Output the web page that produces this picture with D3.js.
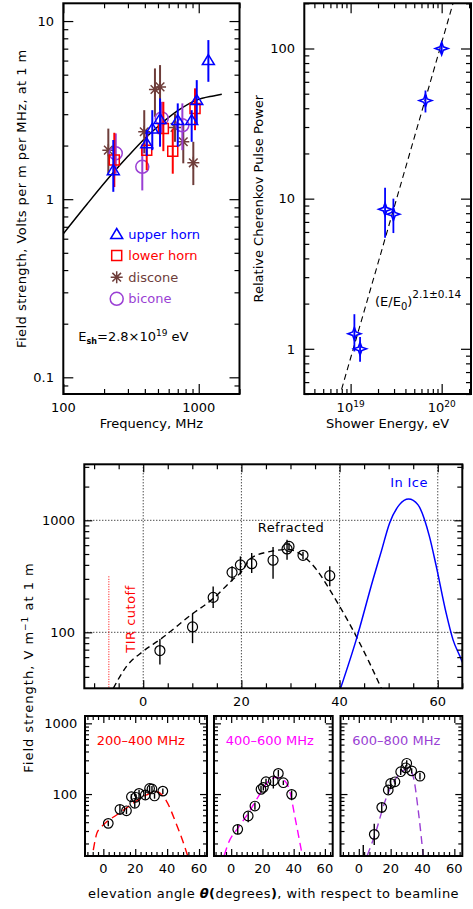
<!DOCTYPE html>
<html>
<head>
<meta charset="utf-8">
<script src="https://cdn.jsdelivr.net/npm/d3@7/dist/d3.min.js"></script>
<style>
  html, body { margin: 0; padding: 0; background: #fff; }
  svg { display: block; }
  text { font-family: "DejaVu Sans", "Liberation Sans", sans-serif; font-size: 13px; white-space: pre; }
</style>
</head>
<body>
<svg id="fig" width="473" height="909" viewBox="0 0 473 909"></svg>
<script>
// ===================== DATA =====================
// Field strength vs frequency, per antenna (MHz, V/m/MHz at 1 m)
const freqUpper      = [234, 413, 454, 518, 700, 887, 967, 1178];
const fieldUpper     = [1.455, 2.06, 2.49, 2.82, 2.78, 2.78, 3.6, 6.04];
const fieldUpperLo   = [1.10, 1.75, 1.885, 1.97, 1.97, 2.1, 2.66, 4.56];
const fieldUpperHi   = [2.15, 2.45, 3.16, 3.68, 3.45, 3.16, 4.66, 7.82];

const freqLower      = [238, 413, 548, 643, 939];
const fieldLower     = [1.66, 1.885, 2.49, 1.86, 3.23];
const fieldLowerLo   = [1.17, 1.455, 1.86, 1.39, 2.44];
const fieldLowerHi   = [2.36, 2.34, 3.52, 2.49, 4.19];

const freqDiscone    = [215, 396, 475, 518, 668, 769, 912];
const fieldDiscone   = [1.885, 2.39, 4.13, 4.27, 2.53, 2.1, 1.6];
const fieldDisconeLo = [1.39, 1.81, 2.9, 3.16, 2.1, 1.59, 1.2];
const fieldDisconeHi = [2.49, 3.16, 5.42, 5.66, 3.03, 2.66, 2.1];

const freqBicone     = [244, 383, 533, 757];
const fieldBicone    = [1.81, 1.52, 2.84, 2.6];
const fieldBiconeLo  = [1.39, 1.12, 2.34, 1.885];
const fieldBiconeHi  = [2.34, 1.97, 3.52, 3.45];

// Shower-model spectrum
const freqModel  = [100, 150, 234, 300, 400, 533, 700, 966, 1282, 1480];
const fieldModel = [0.64, 0.94, 1.41, 1.74, 2.19, 2.67, 3.14, 3.6, 3.8, 3.88];

const freqTicks  = [100, 1000];
const fieldTicks = [0.1, 1, 10];
const antennaNames = ["upper horn", "lower horn", "discone", "bicone"];

// Relative Cherenkov pulse power vs shower energy
const showerEnergy = [1.10e19, 1.27e19, 2.39e19, 2.95e19, 6.64e19, 1.0e20];
const pulsePower   = [1.26, 1.0, 8.5, 7.88, 45, 100];
const pulsePowerLo = [0.96, 0.82, 5.5, 5.9, 37.5, 92];
const pulsePowerHi = [1.7, 1.2, 11.8, 10, 52.5, 109];
const powerIndex = 2.1;      // fitted exponent
const powerE0 = 1.07e19;     // reference energy E0
const powerTicks = [1, 10, 100];
const energyTickExp = [19, 20];

// Field strength vs elevation angle, all frequencies
const angleRefr   = [3.4, 10.05, 14.25, 18.1, 19.8, 22.1, 26.45, 29.3, 29.7, 32.55, 38];
const fieldRefr   = [68.7, 111.7, 205, 343, 400, 410, 440, 555, 585, 487, 320];
const fieldRefrLo = [51.5, 80, 165, 285, 328, 339, 300, 445, 545, 450, 258];
const fieldRefrHi = [87, 147, 257, 388, 476, 511, 579, 670, 630, 525, 389];

const angleRefrModel = [-6.1, -3.4, 0, 3.4, 10, 14.25, 18.2, 19.9, 22, 26, 29.5, 32.2, 35.3, 38, 40, 43.4, 46.1, 48.5];
const fieldRefrModel = [31.6, 49.7, 67.7, 86, 146, 200, 295, 343, 461, 528, 548, 494, 363, 240, 171, 92, 53.3, 31.6];

const angleIceModel = [40.2, 43.4, 46.8, 48.5, 50.2, 52.2, 54.06, 55.95, 58.3, 59.7, 61.7, 63.1, 64.8, 65];
const fieldIceModel = [31.6, 86, 295, 528, 947, 1380, 1552, 1380, 719, 388, 149, 86, 57, 54];

const tirAngle = -7;
const tirTop = 316;
const angleTicks = [0, 20, 40, 60];
const fieldTicksMid = [100, 1000];

// Field strength vs elevation angle, by frequency band
const bandLabels = ["200–400 MHz", "400–600 MHz", "600–800 MHz"];

const angle200   = [3.1, 10.4, 14.5, 17.6, 19.7, 20.4, 22.4, 26.3, 29, 30.5, 32.1, 37.3];
const field200   = [38.5, 60.8, 58, 91.6, 74, 90, 102, 97, 120, 118, 94, 110];
const field200Lo = [35, 51, 52, 84, 64, 82, 86, 84, 104, 106, 86, 100];
const field200Hi = [42, 70, 64, 100, 84, 99, 114, 110, 132, 130, 102, 120];
const model200Angle = [-6.3, -4.1, -2, 2.1, 8.3, 18.6, 27, 33.2, 39.4, 45.6, 49.7, 52.8];
const model200Field = [16.1, 27.8, 32.7, 40.6, 50.5, 74, 97, 108, 81, 38.5, 22, 13.5];

const angle400   = [4.2, 10.9, 15.2, 19.1, 20.6, 22.3, 27, 30.2, 33.4, 38.7];
const field400   = [31.7, 48.9, 67.7, 116.6, 124.4, 149.4, 154, 196, 144.6, 99];
const field400Lo = [27, 40, 60, 104, 112, 135, 120, 176, 134, 82];
const field400Hi = [37, 56, 76, 130, 138, 165, 178, 218, 156, 112];
const model400Angle = [-4.4, -1.9, 4.2, 10.9, 17.3, 22.7, 29.1, 33.4, 37.6, 40.8, 45.5];
const model400Field = [13.7, 20, 32.7, 53.3, 91.6, 142, 172, 160, 108, 47.6, 13.7];

const angle600   = [2.8, 9.7, 14.4, 18.5, 20, 22.7, 26.3, 29.5, 30.1, 33.2, 38.4];
const field600   = [10.5, 26.9, 64.8, 114, 141, 149, 207, 235, 272, 213, 179];
const field600Lo = [8, 19, 54, 100, 118, 136, 186, 215, 245, 196, 160];
const field600Hi = [19, 38, 76, 128, 166, 165, 228, 255, 300, 232, 200];
const model600Angle = [5.3, 9.7, 17.5, 25.9, 31.1, 34.2, 37.3, 40.4];
const model600Field = [13.5, 24.9, 91.6, 196, 231, 176, 59.4, 13.7];

// ===================== STYLE =====================
const BLUE = "#0000ff", RED = "#ff0000", BROWN = "#6e3d3a", PURPLE = "#9a3fd4", MAGENTA = "#ff00ff";
const bandColors = [RED, MAGENTA, PURPLE];

const svg = d3.select("#fig");
const defs = svg.append("defs");

function makePanel(name, x, y) {
  const [x0, x1] = x.range();
  const [y1, y0] = y.range();
  defs.append("clipPath").attr("id", "clip-" + name)
    .append("rect").attr("x", x0).attr("y", y0).attr("width", x1 - x0).attr("height", y1 - y0);
  const g = svg.append("g").attr("class", "panel-" + name);
  const plot = g.append("g").attr("clip-path", `url(#clip-${name})`);
  return { name, x, y, x0, x1, y0, y1, g, plot };
}

function logTicks(lo, hi) {
  const major = [], minor = [];
  for (let k = Math.floor(Math.log10(lo)); k <= Math.ceil(Math.log10(hi)); k++) {
    for (let m = 1; m <= 9; m++) {
      const v = +(m * Math.pow(10, k)).toPrecision(6);
      if (v < lo * 0.9999 || v > hi * 1.0001) continue;
      (m === 1 ? major : minor).push(v);
    }
  }
  return { major, minor };
}

// ticks pointing inward on all four sides, then the frame
function frame(p, xMajor, xMinor, yMajor, yMinor, majLen, minLen) {
  const sides = [
    [d3.axisBottom, p.x, `translate(0,${p.y1})`, true],
    [d3.axisTop, p.x, `translate(0,${p.y0})`, true],
    [d3.axisLeft, p.y, `translate(${p.x0},0)`, false],
    [d3.axisRight, p.y, `translate(${p.x1},0)`, false]
  ];
  sides.forEach(([fn, sc, tr, isX]) => {
    [[isX ? xMajor : yMajor, majLen], [isX ? xMinor : yMinor, minLen]].forEach(([vals, len]) => {
      const ax = fn(sc).tickValues(vals).tickSizeInner(-len).tickSizeOuter(0).tickFormat("");
      const s = p.g.append("g").attr("transform", tr).call(ax);
      s.select(".domain").remove();
      s.selectAll("text").remove();
      s.selectAll("line").attr("stroke", "#000").attr("stroke-width", 1.2);
    });
  });
  p.g.append("rect").attr("x", p.x0).attr("y", p.y0)
    .attr("width", p.x1 - p.x0).attr("height", p.y1 - p.y0)
    .attr("fill", "none").attr("stroke", "#000").attr("stroke-width", 2);
}

function circlePath(r) {
  return `M${r},0A${r},${r} 0 1,1 ${-r},0A${r},${r} 0 1,1 ${r},0Z`;
}
const SYM = {
  triangle: "M0,-5.5L6,4.5L-6,4.5Z",
  square: "M-5,-5H5V5H-5Z",
  asterisk: "M-6,0H6M0,-6V6M-4.3,-4.3L4.3,4.3M-4.3,4.3L4.3,-4.3",
  circle: circlePath(6.5),
  star: "M0,-6.5L1.7,-1.7L6.5,0L1.7,1.7L0,6.5L-1.7,1.7L-6.5,0L-1.7,-1.7Z"
};

function errorBars(layer, p, xs, lo, hi, color, width) {
  layer.append("g").selectAll("line").data(xs).join("line")
    .attr("x1", d => p.x(d)).attr("x2", d => p.x(d))
    .attr("y1", (d, i) => p.y(lo[i])).attr("y2", (d, i) => p.y(hi[i]))
    .attr("stroke", color).attr("stroke-width", width);
}
function markers(layer, p, xs, ys, pathD, color, width) {
  layer.append("g").selectAll("path").data(xs).join("path")
    .attr("transform", (d, i) => `translate(${p.x(d)},${p.y(ys[i])})`)
    .attr("d", pathD).attr("fill", "none").attr("stroke", color).attr("stroke-width", width);
}
function curve(layer, p, xs, ys, color, width, dash) {
  const pts = xs.map((v, i) => [v, ys[i]]);
  const line = d3.line().x(d => p.x(d[0])).y(d => p.y(d[1])).curve(d3.curveMonotoneX);
  const path = layer.append("path").attr("d", line(pts)).attr("fill", "none")
    .attr("stroke", color).attr("stroke-width", width);
  if (dash) path.attr("stroke-dasharray", dash);
  return path;
}
function text(layer, x, y, str, anchor, color) {
  return layer.append("text").attr("x", x).attr("y", y)
    .attr("text-anchor", anchor || "start").attr("fill", color || "#000").text(str);
}

// ===================== TOP LEFT: spectrum =====================
const tl = makePanel("tl",
  d3.scaleLog().domain([100, 2000]).range([63.3, 239.5]),
  d3.scaleLog().domain([0.0806, 12.58]).range([394, 3.3]));

curve(tl.plot, tl, freqModel, fieldModel, "#000", 1.5);

errorBars(tl.g, tl, freqDiscone, fieldDisconeLo, fieldDisconeHi, BROWN, 2);
markers(tl.g, tl, freqDiscone, fieldDiscone, SYM.asterisk, BROWN, 1.5);
errorBars(tl.g, tl, freqBicone, fieldBiconeLo, fieldBiconeHi, PURPLE, 2);
markers(tl.g, tl, freqBicone, fieldBicone, SYM.circle, PURPLE, 1.5);
errorBars(tl.g, tl, freqLower, fieldLowerLo, fieldLowerHi, RED, 2);
markers(tl.g, tl, freqLower, fieldLower, SYM.square, RED, 1.5);
errorBars(tl.g, tl, freqUpper, fieldUpperLo, fieldUpperHi, BLUE, 2);
markers(tl.g, tl, freqUpper, fieldUpper, SYM.triangle, BLUE, 1.5);

{
  const lt = logTicks(0.0806, 12.58), lx = logTicks(100, 2000);
  frame(tl, lx.major, lx.minor, lt.major, lt.minor, 10, 5);
}
fieldTicks.forEach(v => text(tl.g, 54, tl.y(v) + 4.7, String(v), "end"));
freqTicks.forEach(v => text(tl.g, tl.x(v), 412.3, String(v), "middle"));
text(tl.g, (tl.x0 + tl.x1) / 2, 427.7, "Frequency, MHz", "middle");
text(tl.g, 0, 0, "Field strength, Volts per m per MHz, at 1 m", "middle")
  .attr("letter-spacing", 0.45)
  .attr("transform", `translate(25.5,${(tl.y0 + tl.y1) / 2}) rotate(-90)`);

// legend
{
  const syms = [SYM.triangle, SYM.square, SYM.asterisk, SYM.circle];
  const cols = [BLUE, RED, BROWN, PURPLE];
  antennaNames.forEach((name, i) => {
    const cy = 234 + i * 21.6;
    tl.g.append("path").attr("transform", `translate(116.7,${cy})`).attr("d", syms[i])
      .attr("fill", "none").attr("stroke", cols[i]).attr("stroke-width", 1.5);
    text(tl.g, 128.3, cy + 4.5, name, "start", cols[i]);
  });
  const t = tl.g.append("text").attr("x", 78.3).attr("y", 340.7);
  t.append("tspan").text("E");
  t.append("tspan").attr("dy", 3).attr("font-size", 8).attr("font-weight", "bold").text("sh");
  t.append("tspan").attr("dy", -3).text("=2.8×10");
  t.append("tspan").attr("dy", -5).attr("font-size", 9).text("19");
  t.append("tspan").attr("dy", 5).text(" eV");
}

// ===================== TOP RIGHT: power vs energy =====================
const tr = makePanel("tr",
  d3.scaleLog().domain([3.1e18, 2.1e20]).range([304.3, 471]),
  d3.scaleLog().domain([0.5, 200]).range([394, 3.3]));

{
  const pLo = 0.4, pHi = 260;
  const fitE = [pLo, pHi].map(P => powerE0 * Math.pow(P, 1 / powerIndex));
  const fitP = fitE.map(E => Math.pow(E / powerE0, powerIndex));
  tr.plot.append("line")
    .attr("x1", tr.x(fitE[0])).attr("y1", tr.y(fitP[0]))
    .attr("x2", tr.x(fitE[1])).attr("y2", tr.y(fitP[1]))
    .attr("stroke", "#000").attr("stroke-width", 1.1).attr("stroke-dasharray", "6,4");
}
errorBars(tr.g, tr, showerEnergy, pulsePowerLo, pulsePowerHi, BLUE, 1.8);
markers(tr.g, tr, showerEnergy, pulsePower, SYM.star, BLUE, 1.5);
{
  const ly = logTicks(0.5, 200), lx = logTicks(3.1e18, 2.1e20);
  frame(tr, lx.major, lx.minor, ly.major, ly.minor, 10, 5);
}
powerTicks.forEach(v => text(tr.g, 295, tr.y(v) + 4.7, String(v), "end"));
energyTickExp.forEach(e => {
  const t = tr.g.append("text").attr("x", tr.x(Math.pow(10, e))).attr("y", 412.3).attr("text-anchor", "middle");
  t.append("tspan").text("10");
  t.append("tspan").attr("dy", -5).attr("font-size", 9).text(String(e));
});
text(tr.g, (tr.x0 + tr.x1) / 2, 427.7, "Shower Energy, eV", "middle");
text(tr.g, 0, 0, "Relative Cherenkov Pulse Power", "middle")
  .attr("transform", `translate(263,${(tr.y0 + tr.y1) / 2}) rotate(-90)`);
{
  const t = tr.g.append("text").attr("x", 375).attr("y", 306).attr("font-size", 15);
  t.append("tspan").text("(E/E");
  t.append("tspan").attr("dy", 4).attr("font-size", 10).text("0");
  t.append("tspan").attr("dy", -4).text(")");
  t.append("tspan").attr("dy", -8).attr("font-size", 10.5).text("2.1±0.14");
}

// ===================== MIDDLE: field vs elevation angle =====================
const md = makePanel("md",
  d3.scaleLinear().domain([-12, 65]).range([84.3, 462.3]),
  d3.scaleLog().domain([Math.pow(10, 1.5), Math.pow(10, 3.5)]).range([688.3, 464.3]));

// dotted grid
angleTicks.forEach(v => md.plot.append("line")
  .attr("x1", md.x(v)).attr("x2", md.x(v)).attr("y1", md.y0).attr("y2", md.y1)
  .attr("stroke", "#000").attr("stroke-width", 1).attr("stroke-dasharray", "1,2"));
fieldTicksMid.forEach(v => md.plot.append("line")
  .attr("x1", md.x0).attr("x2", md.x1).attr("y1", md.y(v)).attr("y2", md.y(v))
  .attr("stroke", "#000").attr("stroke-width", 1).attr("stroke-dasharray", "1,2"));

// total internal reflection cutoff
md.plot.append("line")
  .attr("x1", md.x(tirAngle)).attr("x2", md.x(tirAngle))
  .attr("y1", md.y(tirTop)).attr("y2", md.y1)
  .attr("stroke", RED).attr("stroke-width", 1).attr("stroke-dasharray", "1,1.5");
text(md.g, 0, 0, "TIR cutoff", "middle", RED)
  .attr("letter-spacing", 0.5)
  .attr("transform", `translate(135,619) rotate(-90)`);

curve(md.plot, md, angleRefrModel, fieldRefrModel, "#000", 1.4, "6,4");
curve(md.plot, md, angleIceModel, fieldIceModel, BLUE, 1.5);
errorBars(md.g, md, angleRefr, fieldRefrLo, fieldRefrHi, "#000", 1.4);
markers(md.g, md, angleRefr, fieldRefr, circlePath(5), "#000", 1.2);

{
  const ly = logTicks(Math.pow(10, 1.5), Math.pow(10, 3.5));
  const xMinor = d3.range(-10, 66, 5).filter(v => !angleTicks.includes(v));
  frame(md, angleTicks, xMinor, ly.major, ly.minor, 8, 5);
}
fieldTicksMid.forEach(v => text(md.g, 75, md.y(v) + 4.7, String(v), "end"));
angleTicks.forEach(v => text(md.g, md.x(v), 706, String(v), "middle"));
text(md.g, 291, 531.7, "Refracted", "middle").attr("letter-spacing", 0.4);
text(md.g, 409, 487.3, "In Ice", "middle", BLUE).attr("letter-spacing", 0.4);

{
  const t = svg.append("text").attr("text-anchor", "middle").attr("letter-spacing", 1)
    .attr("transform", `translate(33,667.5) rotate(-90)`);
  t.append("tspan").text("Field strength, V m");
  t.append("tspan").attr("dy", -5).attr("font-size", 9).text("−1");
  t.append("tspan").attr("dy", 5).text(" at 1 m");
}

// ===================== BOTTOM: three frequency bands =====================
const bands = [
  { range: [85, 207], domain: [-11.5, 65], a: angle200, f: field200, lo: field200Lo, hi: field200Hi, ma: model200Angle, mf: model200Field },
  { range: [214, 332.7], domain: [-11, 65], a: angle400, f: field400, lo: field400Lo, hi: field400Hi, ma: model400Angle, mf: model400Field },
  { range: [340.5, 462.3], domain: [-11.5, 65], a: angle600, f: field600, lo: field600Lo, hi: field600Hi, ma: model600Angle, mf: model600Field }
];
const bandYDomain = [13.3, 1270];
bands.forEach((b, i) => {
  const p = makePanel("b" + i,
    d3.scaleLinear().domain(b.domain).range(b.range),
    d3.scaleLog().domain(bandYDomain).range([856, 716]));
  curve(p.plot, p, b.ma, b.mf, bandColors[i], 1.4, "8,5");
  errorBars(p.plot, p, b.a, b.lo, b.hi, "#000", 1.4);
  markers(p.plot, p, b.a, b.f, circlePath(4.8), "#000", 1.2);
  const ly = logTicks(bandYDomain[0], bandYDomain[1]);
  const xMinor = d3.range(-10, 65.01, 20 / 6).map(v => +v.toFixed(3))
    .filter(v => angleTicks.every(t => Math.abs(t - v) > 0.01));
  frame(p, angleTicks, xMinor, ly.major, ly.minor, 7, 4);
  angleTicks.forEach(v => text(p.g, p.x(v), 873, String(v), "middle"));
  text(p.g, b.range[0] + 11.7, 745, bandLabels[i], "start", bandColors[i]);
  if (i === 0) fieldTicksMid.forEach(v => text(p.g, 77.3, p.y(v) + 4.7, String(v), "end"));
});

{
  const t = svg.append("text").attr("x", 273.5).attr("y", 898).attr("text-anchor", "middle")
    .attr("font-size", 13.5).attr("letter-spacing", 0.45);
  t.append("tspan").text("elevation angle ");
  t.append("tspan").attr("font-weight", "bold").attr("font-style", "italic").text("θ");
  t.append("tspan").attr("font-weight", "bold").text("(");
  t.append("tspan").text("degrees");
  t.append("tspan").attr("font-weight", "bold").text(")");
  t.append("tspan").text(", with respect to beamline");
}
</script>
</body>
</html>
